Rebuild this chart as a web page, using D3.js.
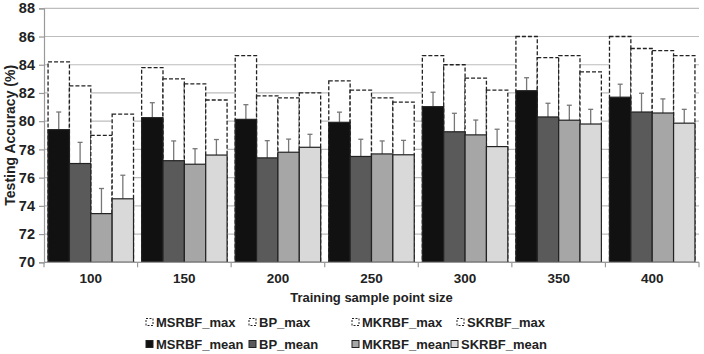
<!DOCTYPE html>
<html>
<head>
<meta charset="utf-8">
<script src="https://cdnjs.cloudflare.com/ajax/libs/d3/7.8.5/d3.min.js"></script>
<style>
  body { margin: 0; background: #fff; }
  text { font-family: "Liberation Sans", Arial, sans-serif; font-weight: bold; fill: #222; }
</style>
</head>
<body>
<div id="chart"></div>
<script>
var categories = ["100", "150", "200", "250", "300", "350", "400"];
var series = ["MSRBF", "BP", "MKRBF", "SKRBF"];

// max accuracy per series, one value per category
var maxMSRBF = [84.2, 83.8, 84.65, 82.85, 84.65, 86.0, 86.0];
var maxBP    = [82.5, 83.0, 81.8, 82.2, 84.0, 84.5, 85.15];
var maxMKRBF = [79.0, 82.65, 81.65, 81.65, 83.05, 84.65, 85.0];
var maxSKRBF = [80.5, 81.5, 82.0, 81.35, 82.2, 83.5, 84.65];

// mean accuracy
var meanMSRBF = [79.4, 80.25, 80.13, 79.92, 81.03, 82.16, 81.7];
var meanBP    = [77.0, 77.2, 77.4, 77.5, 79.25, 80.3, 80.65];
var meanMKRBF = [73.45, 76.95, 77.8, 77.68, 79.03, 80.07, 80.58];
var meanSKRBF = [74.5, 77.6, 78.15, 77.62, 78.2, 79.8, 79.86];

// standard deviation (error bar above mean)
var sdMSRBF = [1.25, 1.06, 1.04, 0.72, 1.02, 0.92, 0.92];
var sdBP    = [1.5, 1.4, 1.22, 1.22, 1.31, 0.97, 1.33];
var sdMKRBF = [1.78, 1.1, 0.93, 0.92, 1.05, 1.06, 1.0];
var sdSKRBF = [1.67, 1.1, 0.92, 1.02, 1.23, 1.04, 0.98];

var yTicks = [70, 72, 74, 76, 78, 80, 82, 84, 86, 88];

var maxVals = [maxMSRBF, maxBP, maxMKRBF, maxSKRBF];
var meanVals = [meanMSRBF, meanBP, meanMKRBF, meanSKRBF];
var sdVals = [sdMSRBF, sdBP, sdMKRBF, sdSKRBF];
var fills = ["#111111", "#5a5a5a", "#a6a6a6", "#d9d9d9"];

function init() {
    var w = 704;
    var h = 354;
    var left = 44, right = 699, top = 8.3, bottom = 262.3;

    var svg = d3.select("#chart")
        .append("svg")
        .attr("width", w)
        .attr("height", h);

    var x = d3.scaleBand()
        .domain(categories)
        .range([left, right])
        .paddingInner(0)
        .paddingOuter(0);

    var xs = d3.scaleBand()
        .domain(series)
        .range([0, x.bandwidth()])
        .paddingOuter(0.19)
        .paddingInner(0);

    var y = d3.scaleLinear()
        .domain([70, 88])
        .range([bottom, top]);

    // gridlines
    svg.append("g")
        .selectAll("line")
        .data(yTicks)
        .enter()
        .append("line")
        .attr("x1", left)
        .attr("x2", right)
        .attr("y1", function(d) { return y(d); })
        .attr("y2", function(d) { return y(d); })
        .attr("stroke", "#bdbdbd")
        .attr("stroke-width", 1.2);

    // y axis
    var yAxis = svg.append("g")
        .attr("transform", "translate(" + left + ",0)")
        .call(d3.axisLeft(y).tickValues(yTicks).tickSize(5).tickPadding(4));
    yAxis.select(".domain").attr("stroke", "#999").attr("stroke-width", 1.2);
    yAxis.selectAll(".tick line").attr("stroke", "#999").attr("stroke-width", 1.2);
    yAxis.selectAll("text").style("font-size", "14.5px").attr("fill", "#222");

    var groups = svg.append("g")
        .selectAll("g")
        .data(categories)
        .enter()
        .append("g")
        .attr("transform", function(d) { return "translate(" + x(d) + ",0)"; });

    // max bars (dashed outlines)
    groups.selectAll("rect.max")
        .data(function(d, i) {
            return series.map(function(s, k) { return { s: s, v: maxVals[k][i] }; });
        })
        .enter()
        .append("rect")
        .attr("class", "max")
        .attr("x", function(d) { return xs(d.s); })
        .attr("y", function(d) { return y(d.v); })
        .attr("width", xs.bandwidth())
        .attr("height", function(d) { return bottom - y(d.v); })
        .attr("fill", "#fff")
        .attr("stroke", "#222")
        .attr("stroke-width", 1.3)
        .attr("stroke-dasharray", "4,2");

    // error bars
    var err = groups.selectAll("g.err")
        .data(function(d, i) {
            return series.map(function(s, k) { return { s: s, m: meanVals[k][i], sd: sdVals[k][i] }; });
        })
        .enter()
        .append("g")
        .attr("class", "err");
    err.append("line")
        .attr("x1", function(d) { return xs(d.s) + xs.bandwidth() / 2; })
        .attr("x2", function(d) { return xs(d.s) + xs.bandwidth() / 2; })
        .attr("y1", function(d) { return y(d.m); })
        .attr("y2", function(d) { return y(d.m + d.sd); })
        .attr("stroke", "#777")
        .attr("stroke-width", 1.3);
    err.append("line")
        .attr("x1", function(d) { return xs(d.s) + xs.bandwidth() / 2 - 2.5; })
        .attr("x2", function(d) { return xs(d.s) + xs.bandwidth() / 2 + 2.5; })
        .attr("y1", function(d) { return y(d.m + d.sd); })
        .attr("y2", function(d) { return y(d.m + d.sd); })
        .attr("stroke", "#777")
        .attr("stroke-width", 1.3);

    // mean bars
    groups.selectAll("rect.mean")
        .data(function(d, i) {
            return series.map(function(s, k) { return { s: s, k: k, v: meanVals[k][i] }; });
        })
        .enter()
        .append("rect")
        .attr("class", "mean")
        .attr("x", function(d) { return xs(d.s); })
        .attr("y", function(d) { return y(d.v); })
        .attr("width", xs.bandwidth())
        .attr("height", function(d) { return bottom - y(d.v); })
        .attr("fill", function(d) { return fills[d.k]; })
        .attr("stroke", "#222")
        .attr("stroke-width", 1.2);

    // x axis
    var xAxis = svg.append("g")
        .attr("transform", "translate(0," + bottom + ")");
    xAxis.append("line")
        .attr("x1", left).attr("x2", right)
        .attr("stroke", "#999").attr("stroke-width", 1.2);
    xAxis.selectAll("line.tick")
        .data(categories.concat(["end"]))
        .enter()
        .append("line")
        .attr("class", "tick")
        .attr("x1", function(d, i) { return left + i * x.bandwidth(); })
        .attr("x2", function(d, i) { return left + i * x.bandwidth(); })
        .attr("y1", 0).attr("y2", 5)
        .attr("stroke", "#999").attr("stroke-width", 1.2);
    xAxis.selectAll("text")
        .data(categories)
        .enter()
        .append("text")
        .attr("x", function(d) { return x(d) + x.bandwidth() / 2; })
        .attr("y", 21)
        .attr("text-anchor", "middle")
        .style("font-size", "13.5px")
        .text(function(d) { return d; });

    // axis titles
    svg.append("text")
        .attr("x", (left + right) / 2)
        .attr("y", 302)
        .attr("text-anchor", "middle")
        .style("font-size", "13px")
        .text("Training sample point size");

    svg.append("text")
        .attr("transform", "translate(14.5," + ((top + bottom) / 2) + ") rotate(-90)")
        .attr("text-anchor", "middle")
        .style("font-size", "14px")
        .text("Testing Accuracy (%)");

    // legend
    var legendItems = [];
    series.forEach(function(s, k) { legendItems.push({ name: s + "_max", k: k, row: 0 }); });
    series.forEach(function(s, k) { legendItems.push({ name: s + "_mean", k: k, row: 1 }); });
    var colX = [[146, 249, 352, 457], [146, 249, 352, 451]];

    var leg = svg.append("g")
        .selectAll("g")
        .data(legendItems)
        .enter()
        .append("g")
        .attr("transform", function(d) {
            return "translate(" + colX[d.row][d.k] + "," + (322 + d.row * 22) + ")";
        });
    leg.append("rect")
        .attr("x", 0).attr("y", -3.5)
        .attr("width", 7).attr("height", 7)
        .attr("fill", function(d) { return d.row ? fills[d.k] : "#fff"; })
        .attr("stroke", "#222")
        .attr("stroke-width", 1)
        .attr("stroke-dasharray", function(d) { return d.row ? null : "2,1.5"; });
    leg.append("text")
        .attr("x", 10)
        .attr("y", 4.5)
        .style("font-size", "13px")
        .text(function(d) { return d.name; });
}

window.onload = init;
</script>
</body>
</html>
